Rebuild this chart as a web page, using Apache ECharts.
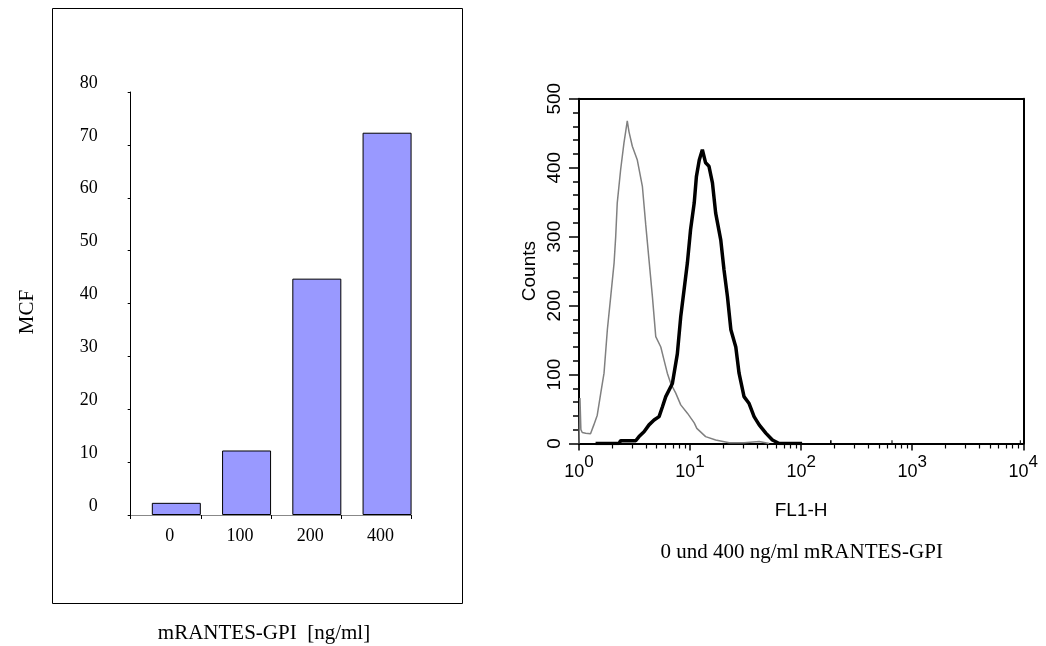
<!DOCTYPE html>
<html>
<head>
<meta charset="utf-8">
<title>MCF und FL1-H Histogramm</title>
<script src="https://cdn.jsdelivr.net/npm/echarts@6/dist/echarts.min.js"></script>
<style>
  html, body { margin: 0; padding: 0; background: #fff; }
  #chart { width: 1046px; height: 646px; }
</style>
</head>
<body>
<div id="chart"></div>
<script>
// --- left panel: MCF per concentration ---
const concentrations = ['0', '100', '200', '400'];
const mcfValues = [2.3, 12.2, 44.7, 72.3];

// --- right panel: FL1-H histograms (0 and 400 ng/ml) ---
const grayFl1 = [1.00, 1.02, 1.04, 1.07, 1.15, 1.27, 1.36, 1.46, 1.57, 1.68,
  1.80, 1.93, 2.07, 2.14, 2.21, 2.37, 2.54, 2.63, 2.72, 2.82,
  3.02, 3.35, 3.72, 3.99, 4.27, 4.58, 4.91, 5.45, 5.83, 6.24,
  6.70, 7.43, 8.24, 9.46, 10.9, 11.5, 13.8, 17.0, 22.5, 30.6, 41.9, 51.6];
const grayCounts = [0, 66, 20, 16, 15, 14, 27, 41, 73, 102,
  165, 213, 262, 300, 349, 397, 436, 452, 468, 452,
  431, 411, 373, 317, 266, 213, 155, 140, 121, 102,
  87, 73, 56, 44, 30, 22, 10, 5, 1, 1, 3, 0];

const blackFl1 = [1.41, 2.29, 2.37, 3.24, 3.47, 3.85, 4.27, 4.74, 5.26, 5.63,
  6.04, 6.93, 7.68, 8.24, 8.83, 9.46, 10.1, 10.9, 11.4, 12.1,
  12.9, 13.4, 13.8, 14.8, 15.9, 17.0, 18.9, 20.2, 21.7, 23.3,
  25.8, 27.6, 30.6, 34.0, 37.7, 41.9, 48.1, 55.1, 63.4, 102,
  120, 182, 188, 300, 650, 665, 2000, 9300, 9500];
const blackCounts = [0, 0, 4, 4, 10, 17, 27, 34, 39, 53,
  68, 87, 130, 184, 223, 262, 310, 349, 387, 411,
  426, 428, 407, 402, 378, 334, 295, 252, 213, 165,
  140, 102, 68, 58, 39, 27, 15, 5, 0, 0,
  null, 2, 2, null, 2, 2, null, 2, 2];

const countTicks = [0, 100, 200, 300, 400, 500];
const decadeExponents = ['0', '1', '2', '3', '4'];
const minorFl1Ticks = [2, 3, 4, 5, 6, 7, 8, 9, 20, 30, 40, 50, 60, 70, 80, 90,
  200, 300, 400, 500, 600, 700, 800, 900, 2000, 3000, 4000, 5000, 6000, 7000, 8000, 9000];

const serif = '"Liberation Serif", "Times New Roman", serif';
const sans = '"Liberation Sans", Arial, sans-serif';

function pairs(xs, ys) {
  return xs.map((x, i) => [x, ys[i] === null ? '-' : ys[i]]);
}

const chart = echarts.init(document.getElementById('chart'));

const option = {
  animation: false,
  backgroundColor: '#fff',
  grid: [
    // left panel axes
    { left: 130.7, top: 92, width: 281, height: 423 },
    // left panel bars (shifted so bars sit to the right in each slot)
    { left: 141.2, top: 92, width: 281, height: 423 },
    // right panel histogram
    { left: 579, top: 98.7, width: 444.3, height: 344.8 },
    // right panel minor ticks
    { left: 579, top: 98.7, width: 444.3, height: 344.8 }
  ],
  xAxis: [
    {
      gridIndex: 0,
      type: 'category',
      data: concentrations,
      boundaryGap: true,
      axisLine: { lineStyle: { color: '#888', width: 1 } },
      axisTick: { show: true, length: 4, lineStyle: { color: '#000' } },
      axisLabel: {
        color: '#000', fontFamily: serif, fontSize: 18, margin: 12,
        padding: [0, 0, 0, 8]
      },
      splitLine: { show: false }
    },
    { gridIndex: 1, type: 'category', data: concentrations, show: false },
    {
      gridIndex: 2,
      type: 'log',
      logBase: 10,
      min: 1,
      max: 10000,
      offset: 2,
      name: 'FL1-H',
      nameLocation: 'middle',
      nameGap: 56,
      nameTextStyle: { color: '#000', fontFamily: sans, fontSize: 19 },
      axisLine: { lineStyle: { color: '#000', width: 2 } },
      axisTick: { show: true, length: 7, lineStyle: { color: '#000', width: 1.5 } },
      axisLabel: {
        color: '#000',
        margin: 8,
        formatter: function (v) {
          const e = decadeExponents[Math.round(Math.log10(v))];
          return '{b|10}{s|' + e + '}';
        },
        rich: {
          b: { fontFamily: sans, fontSize: 18, color: '#000' },
          s: { fontFamily: sans, fontSize: 17, color: '#000', padding: [0, 0, 20, 0] }
        }
      },
      splitLine: { show: false }
    },
    {
      gridIndex: 3,
      type: 'log',
      logBase: 10,
      min: 1,
      max: 10000,
      offset: 2,
      axisLine: { show: false },
      axisTick: {
        show: true, length: 5, customValues: minorFl1Ticks,
        lineStyle: { color: '#000', width: 1.2 }
      },
      axisLabel: { show: false },
      splitLine: { show: false }
    },
    {
      gridIndex: 2,
      type: 'value',
      position: 'top',
      min: 0,
      max: 1,
      axisLine: { show: true, onZero: false, lineStyle: { color: '#000', width: 2 } },
      axisTick: { show: false },
      axisLabel: { show: false },
      splitLine: { show: false }
    }
  ],
  yAxis: [
    {
      gridIndex: 0,
      type: 'value',
      min: 0,
      max: 80,
      interval: 10,
      axisLine: { show: true, lineStyle: { color: '#000', width: 1 } },
      axisTick: { show: true, length: 3, lineStyle: { color: '#000' } },
      axisLabel: {
        color: '#000', fontFamily: serif, fontSize: 18, margin: 33,
        verticalAlign: 'bottom'
      },
      splitLine: { show: false }
    },
    { gridIndex: 1, type: 'value', min: 0, max: 80, show: false },
    {
      gridIndex: 2,
      type: 'value',
      min: 0,
      max: 500,
      interval: 100,
      name: 'Counts',
      nameLocation: 'middle',
      nameRotate: 90,
      nameGap: 40,
      nameTextStyle: { color: '#000', fontFamily: sans, fontSize: 19 },
      axisLine: { show: true, onZero: false, lineStyle: { color: '#000', width: 2 } },
      axisTick: { show: true, length: 10, lineStyle: { color: '#000', width: 1.5 } },
      minorTick: { show: true, splitNumber: 5, length: 6, lineStyle: { color: '#000', width: 1.5 } },
      axisLabel: {
        color: '#000', fontFamily: sans, fontSize: 19, rotate: 90, margin: 15,
        customValues: countTicks
      },
      splitLine: { show: false },
      minorSplitLine: { show: false }
    },
    {
      gridIndex: 2,
      type: 'value',
      position: 'right',
      min: 0,
      max: 500,
      axisLine: { show: true, onZero: false, lineStyle: { color: '#000', width: 2 } },
      axisTick: { show: false },
      axisLabel: { show: false },
      splitLine: { show: false }
    },
    { gridIndex: 3, type: 'value', min: 0, max: 500, show: false }
  ],
  series: [
    {
      type: 'bar',
      xAxisIndex: 1,
      yAxisIndex: 1,
      data: mcfValues,
      barWidth: 49,
      itemStyle: { color: '#9999ff', borderColor: '#000', borderWidth: 1 }
    },
    {
      name: '0 ng/ml',
      type: 'line',
      xAxisIndex: 2,
      yAxisIndex: 2,
      data: pairs(grayFl1, grayCounts),
      symbol: 'none',
      lineStyle: { color: '#808080', width: 1.5 },
      z: 3
    },
    {
      name: '400 ng/ml',
      type: 'line',
      xAxisIndex: 2,
      yAxisIndex: 2,
      data: pairs(blackFl1, blackCounts),
      symbol: 'none',
      connectNulls: false,
      lineStyle: { color: '#000', width: 3.5 },
      z: 4
    }
  ],
  graphic: [
    {
      type: 'rect',
      shape: { x: 52.5, y: 8.5, width: 410, height: 595 },
      style: { fill: 'none', stroke: '#000', lineWidth: 1 },
      silent: true
    },
    {
      type: 'text',
      x: 27, y: 312, rotation: Math.PI / 2,
      style: {
        text: 'MCF', font: '21px ' + serif, fill: '#000',
        align: 'center', verticalAlign: 'middle'
      }
    },
    {
      type: 'text',
      x: 264, y: 633,
      style: {
        text: 'mRANTES-GPI  [ng/ml]', font: '21px ' + serif, fill: '#000',
        align: 'center', verticalAlign: 'middle'
      }
    },
    {
      type: 'text',
      x: 801.7, y: 552,
      style: {
        text: '0 und 400 ng/ml mRANTES-GPI', font: '21px ' + serif, fill: '#000',
        align: 'center', verticalAlign: 'middle'
      }
    }
  ]
};

chart.setOption(option);
window.addEventListener('resize', function () {
  chart.resize();
});
</script>
</body>
</html>
